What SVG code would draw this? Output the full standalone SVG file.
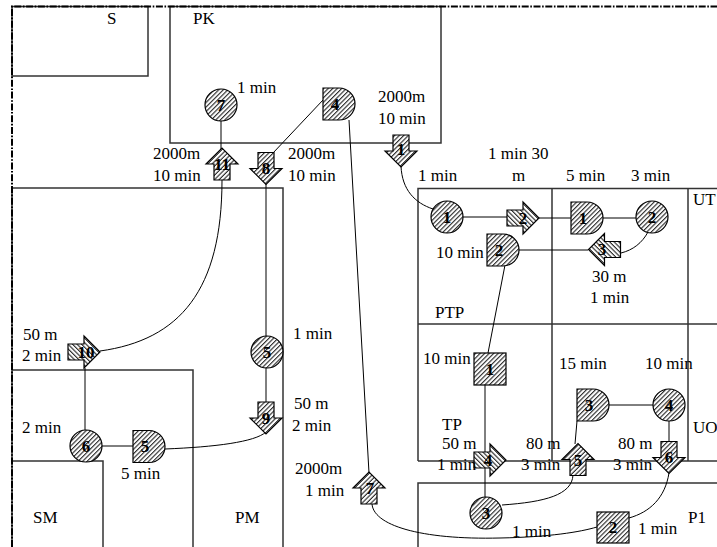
<svg xmlns="http://www.w3.org/2000/svg" xmlns:xlink="http://www.w3.org/1999/xlink" width="717" height="547" viewBox="0 0 717 547">
<defs>
<pattern id="hatch" patternUnits="userSpaceOnUse" width="3.2" height="3.2" patternTransform="rotate(45)">
<rect width="3.2" height="3.2" fill="#ffffff"/>
<line x1="0.6" y1="0" x2="0.6" y2="3.2" stroke="#111" stroke-width="1"/>
</pattern>
<polygon id="arr" points="-8,-16 8,-16 8,0 16,0 0,16 -16,0 -8,0"/>
<path id="dshape" d="M-16,-16 H0 A16,16 0 0 1 0,16 H-16 Z"/>
</defs>
<style>
.box{fill:none;stroke:#333;stroke-width:1.5}
.border{fill:none;stroke:#000;stroke-width:2;stroke-dasharray:7 1.6 1.6 1.6}
.con{fill:none;stroke:#000;stroke-width:1}
.shp{fill:url(#hatch);stroke:#000;stroke-width:1.2}
.lbl{font-family:"Liberation Serif","Times New Roman",serif;font-size:17px;fill:#000}
.num{font-family:"Liberation Serif","Times New Roman",serif;font-size:17px;font-weight:bold;fill:#000;text-anchor:middle}
</style>
<rect width="717" height="547" fill="#fff"/>

<g id="areas">
<rect class="box" x="12" y="6.5" width="136" height="69.5"/>
<rect class="box" x="170" y="6.5" width="271" height="136.5"/>
<polyline class="box" points="12,547 12,188 283,188 283,547"/>
<polyline class="box" points="12,370 193,370 193,547"/>
<polyline class="box" points="12,461 103,461 103,547"/>
<polyline class="box" points="418,461 418,188.5 717,188.5"/>
<line class="box" x1="552" y1="188.5" x2="552" y2="461"/>
<line class="box" x1="688" y1="188.5" x2="688" y2="461"/>
<line class="box" x1="418" y1="324" x2="717" y2="324"/>
<line class="box" x1="418" y1="461" x2="717" y2="461"/>
<polyline class="box" points="418,547 418,483 717,483"/>
<polyline class="border" points="12,547 12,6.5 717,6.5"/>
</g>

<g id="connectors">
<line class="con" x1="221" y1="121" x2="221" y2="149"/>
<line class="con" x1="323" y1="100" x2="273" y2="153"/>
<line class="con" x1="349" y1="120" x2="369" y2="473"/>
<path class="con" d="M401,166 C402,190 415,203 433,209"/>
<path class="con" d="M222,180 C222,290 180,340 100,351"/>
<line class="con" x1="266" y1="184" x2="266" y2="403"/>
<path class="con" d="M266,432 C255,442 215,447 165,449"/>
<line class="con" x1="85" y1="368" x2="85" y2="430"/>
<line class="con" x1="102" y1="446" x2="133" y2="446"/>
<line class="con" x1="463" y1="217" x2="507" y2="217"/>
<line class="con" x1="539" y1="218" x2="571" y2="218"/>
<line class="con" x1="603" y1="218" x2="636" y2="218"/>
<path class="con" d="M648,232 C642,243 633,250 621,253"/>
<line class="con" x1="519" y1="250" x2="588" y2="250"/>
<line class="con" x1="505" y1="265" x2="488" y2="353"/>
<line class="con" x1="485" y1="385" x2="485" y2="497"/>
<path class="con" d="M502,505 C545,502 572,495 573,475"/>
<line class="con" x1="577" y1="421" x2="575" y2="444"/>
<line class="con" x1="608" y1="405" x2="653" y2="405"/>
<line class="con" x1="669" y1="421" x2="669" y2="442"/>
<path class="con" d="M669,473 C665,498 650,512 629,518"/>
<path class="con" d="M372,503 C372,525 420,540 500,538 C550,537 580,532 597,527"/>
</g>

<g id="k-circle7"><circle class="shp" cx="221" cy="105" r="16"/><text class="num" x="221" y="111">7</text></g>
<g id="k-d4"><use href="#dshape" class="shp" transform="translate(339,104)"/><text class="num" x="335" y="110">4</text></g>
<g id="k-arrow1"><use href="#arr" class="shp" transform="translate(401,151)"/><text class="num" x="401" y="155">1</text></g>
<g id="k-arrow11"><use href="#arr" class="shp" transform="translate(222,164) rotate(180)"/><text class="num" x="222" y="170">11</text></g>
<g id="k-arrow8"><use href="#arr" class="shp" transform="translate(266,168.5)"/><text class="num" x="266" y="174">8</text></g>
<g id="m-arrow10"><use href="#arr" class="shp" transform="translate(84,352) rotate(-90)"/><text class="num" x="86" y="358">10</text></g>
<g id="m-circle5"><circle class="shp" cx="267" cy="352" r="16"/><text class="num" x="267" y="358">5</text></g>
<g id="m-arrow9"><use href="#arr" class="shp" transform="translate(266,418)"/><text class="num" x="266" y="424">9</text></g>
<g id="m-circle6"><circle class="shp" cx="86" cy="446" r="16"/><text class="num" x="86" y="452">6</text></g>
<g id="m-d5"><use href="#dshape" class="shp" transform="translate(149,446.5)"/><text class="num" x="145" y="452">5</text></g>
<g id="m-arrow7"><use href="#arr" class="shp" transform="translate(369,488) rotate(180)"/><text class="num" x="370" y="494">7</text></g>

<g id="p-circle1"><circle class="shp" cx="447" cy="217" r="16"/><text class="num" x="447" y="223">1</text></g>
<g id="p-arrow2"><use href="#arr" class="shp" transform="translate(523,218) rotate(-90)"/><text class="num" x="523" y="224">2</text></g>
<g id="p-d1"><use href="#dshape" class="shp" transform="translate(587,218)"/><text class="num" x="583" y="224">1</text></g>
<g id="p-circle2"><circle class="shp" cx="652" cy="217" r="16"/><text class="num" x="652" y="223">2</text></g>
<g id="p-arrow3"><use href="#arr" class="shp" transform="translate(604.5,249.5) rotate(90)"/><text class="num" x="602" y="255">3</text></g>
<g id="p-d2"><use href="#dshape" class="shp" transform="translate(503,250)"/><text class="num" x="499" y="256">2</text></g>

<g id="t-square1"><rect class="shp" x="474" y="353" width="32" height="32"/><text class="num" x="490" y="375">1</text></g>
<g id="t-arrow4"><use href="#arr" class="shp" transform="translate(490,460) rotate(-90)"/><text class="num" x="488" y="466">4</text></g>
<g id="t-circle3"><circle class="shp" cx="486" cy="513" r="16"/><text class="num" x="486" y="519">3</text></g>
<g id="t-arrow5"><use href="#arr" class="shp" transform="translate(578,459.5) rotate(180)"/><text class="num" x="578" y="466">5</text></g>
<g id="t-d3"><use href="#dshape" class="shp" transform="translate(593,405)"/><text class="num" x="589" y="411">3</text></g>
<g id="t-circle4"><circle class="shp" cx="669" cy="405" r="16"/><text class="num" x="669" y="411">4</text></g>
<g id="t-arrow6"><use href="#arr" class="shp" transform="translate(669,457.5)"/><text class="num" x="669" y="463">6</text></g>
<g id="t-square2"><rect class="shp" x="597" y="512" width="32" height="31"/><text class="num" x="613" y="533">2</text></g>

<g id="labels">
<text class="lbl" x="107" y="24">S</text>
<text class="lbl" x="193" y="24">PK</text>
<text class="lbl" x="237" y="93">1 min</text>
<text class="lbl" x="378" y="102">2000m</text>
<text class="lbl" x="378" y="124">10 min</text>
<text class="lbl" x="153" y="159">2000m</text>
<text class="lbl" x="153" y="181">10 min</text>
<text class="lbl" x="288" y="159">2000m</text>
<text class="lbl" x="288" y="181">10 min</text>
<text class="lbl" x="418" y="181">1 min</text>
<text class="lbl" x="488" y="159">1 min 30</text>
<text class="lbl" x="512" y="181">m</text>
<text class="lbl" x="566" y="181">5 min</text>
<text class="lbl" x="631" y="181">3 min</text>
<text class="lbl" x="693" y="205">UT</text>
<text class="lbl" x="436" y="258">10 min</text>
<text class="lbl" x="592" y="282">30 m</text>
<text class="lbl" x="590" y="303">1 min</text>
<text class="lbl" x="435" y="318">PTP</text>
<text class="lbl" x="293" y="339">1 min</text>
<text class="lbl" x="23" y="340">50 m</text>
<text class="lbl" x="22" y="361">2 min</text>
<text class="lbl" x="294" y="409">50 m</text>
<text class="lbl" x="292" y="431">2 min</text>
<text class="lbl" x="22" y="433">2 min</text>
<text class="lbl" x="121" y="479">5 min</text>
<text class="lbl" x="295" y="474">2000m</text>
<text class="lbl" x="305" y="496">1 min</text>
<text class="lbl" x="33" y="523">SM</text>
<text class="lbl" x="235" y="523">PM</text>
<text class="lbl" x="423" y="364">10 min</text>
<text class="lbl" x="559" y="369">15 min</text>
<text class="lbl" x="645" y="369">10 min</text>
<text class="lbl" x="442" y="430">TP</text>
<text class="lbl" x="442" y="449">50 m</text>
<text class="lbl" x="437" y="470">1 min</text>
<text class="lbl" x="526" y="449">80 m</text>
<text class="lbl" x="521" y="470">3 min</text>
<text class="lbl" x="618" y="449">80 m</text>
<text class="lbl" x="613" y="470">3 min</text>
<text class="lbl" x="693" y="433">UO</text>
<text class="lbl" x="688" y="523">P1</text>
<text class="lbl" x="512" y="537">1 min</text>
<text class="lbl" x="638" y="534">1 min</text>
</g>
</svg>
